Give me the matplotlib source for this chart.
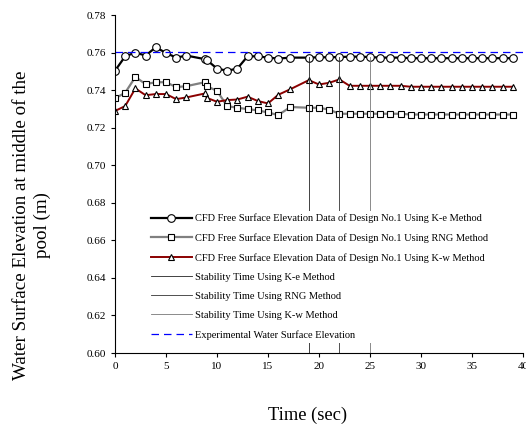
import matplotlib
matplotlib.use("Agg")
import matplotlib.pyplot as plt

plt.rcParams['font.family'] = ['Liberation Serif', 'DejaVu Serif']

# time (sec)
time = [0, 1, 2, 3, 4, 5, 6, 7, 8.8, 9, 10, 11, 12, 13, 14, 15, 16, 17.2,
        19, 20, 21, 22, 23, 24, 25, 26, 27, 28, 29, 30, 31, 32, 33, 34, 35,
        36, 37, 38, 39]

ke = [0.7503, 0.7580, 0.7600, 0.7584, 0.7628, 0.7598, 0.7573, 0.7584, 0.7565,
      0.7560, 0.7515, 0.7503, 0.7515, 0.7580, 0.7580, 0.7573, 0.7568, 0.7573,
      0.7573, 0.7575, 0.7575, 0.7576, 0.7578, 0.7578, 0.7576,
      0.7573, 0.7573, 0.7573, 0.7570, 0.7570, 0.7570, 0.7570, 0.7570, 0.7570,
      0.7570, 0.7570, 0.7570, 0.7570, 0.7570]

rng = [0.7356, 0.7386, 0.7470, 0.7432, 0.7442, 0.7442, 0.7416, 0.7421, 0.7442,
       0.7421, 0.7396, 0.7315, 0.7306, 0.7299, 0.7292, 0.7281, 0.7267, 0.7310,
       0.7306, 0.7306, 0.7296, 0.7274,
       0.7274, 0.7274, 0.7274, 0.7274, 0.7274, 0.7274,
       0.7270, 0.7270, 0.7270, 0.7270, 0.7270, 0.7270, 0.7270, 0.7270, 0.7270,
       0.7270, 0.7270]

kw = [0.7289, 0.7315, 0.7409, 0.7373, 0.7379, 0.7379, 0.7352, 0.7361, 0.7382,
      0.7359, 0.7338, 0.7347, 0.7350, 0.7365, 0.7342, 0.7329, 0.7375, 0.7405,
      0.7453, 0.7430, 0.7439, 0.7457,
      0.7423, 0.7423, 0.7423, 0.7423, 0.7423, 0.7423,
      0.7418, 0.7418, 0.7418, 0.7418, 0.7418, 0.7418, 0.7418, 0.7418, 0.7418,
      0.7418, 0.7418]

stab_times = [19, 22, 25]
stab_top = 0.7575
experimental = 0.7605

fig = plt.figure(figsize=(5.26, 4.25), dpi=100)
ax = fig.add_axes([0.2186, 0.1694, 0.7757, 0.7953])

ax.plot(time, ke, color='black', lw=1.6, marker='o', ms=5.5, mfc='white',
        mec='black', mew=0.8,
        label='CFD Free Surface Elevation Data of Design No.1 Using K-e Method')
ax.plot(time, rng, color='#808080', lw=1.6, marker='s', ms=4, mfc='white',
        mec='black', mew=0.8,
        label='CFD Free Surface Elevation Data of Design No.1 Using RNG Method')
ax.plot(time, kw, color='#8b0000', lw=1.4, marker='^', ms=5, mfc='white',
        mec='black', mew=0.8,
        label='CFD Free Surface Elevation Data of Design No.1 Using K-w Method')

names = ['K-e', 'RNG', 'K-w']
colors = ['#222222', '#333333', '#777777']
for t, n, c in zip(stab_times, names, colors):
    ax.plot([t, t], [0.60, stab_top], color=c, lw=0.6,
            label='Stability Time Using %s Method' % n)

ax.axhline(experimental, color='blue', lw=0.9, ls=(0, (6, 4)),
           label='Experimental Water Surface Elevation')

ax.set_xlim(0, 40)
ax.set_ylim(0.60, 0.78)
ax.set_xticks(range(0, 41, 5))
ax.set_yticks([0.60 + 0.02 * i for i in range(10)])
ax.set_yticklabels(['%.2f' % (0.60 + 0.02 * i) for i in range(10)])
ax.tick_params(labelsize=8, length=3, width=0.8)
ax.spines['top'].set_visible(False)
ax.spines['right'].set_visible(False)

ax.set_xlabel('Time (sec)', fontsize=13.3)
ax.xaxis.set_label_coords(0.473, -0.16)
ax.set_ylabel('Water Surface Elevation at middle of the\npool (m)', fontsize=13.7,
              linespacing=1.25)
ax.yaxis.set_label_coords(-0.158, 0.379)

leg = ax.legend(loc='upper left', bbox_to_anchor=(0.068, 0.437), fontsize=7.5,
                frameon=True, fancybox=False, edgecolor='none', facecolor='white',
                framealpha=1, handlelength=3.9, handletextpad=0.3,
                labelspacing=0.95, borderpad=0.3)

fig.savefig('out.png', dpi=100)
